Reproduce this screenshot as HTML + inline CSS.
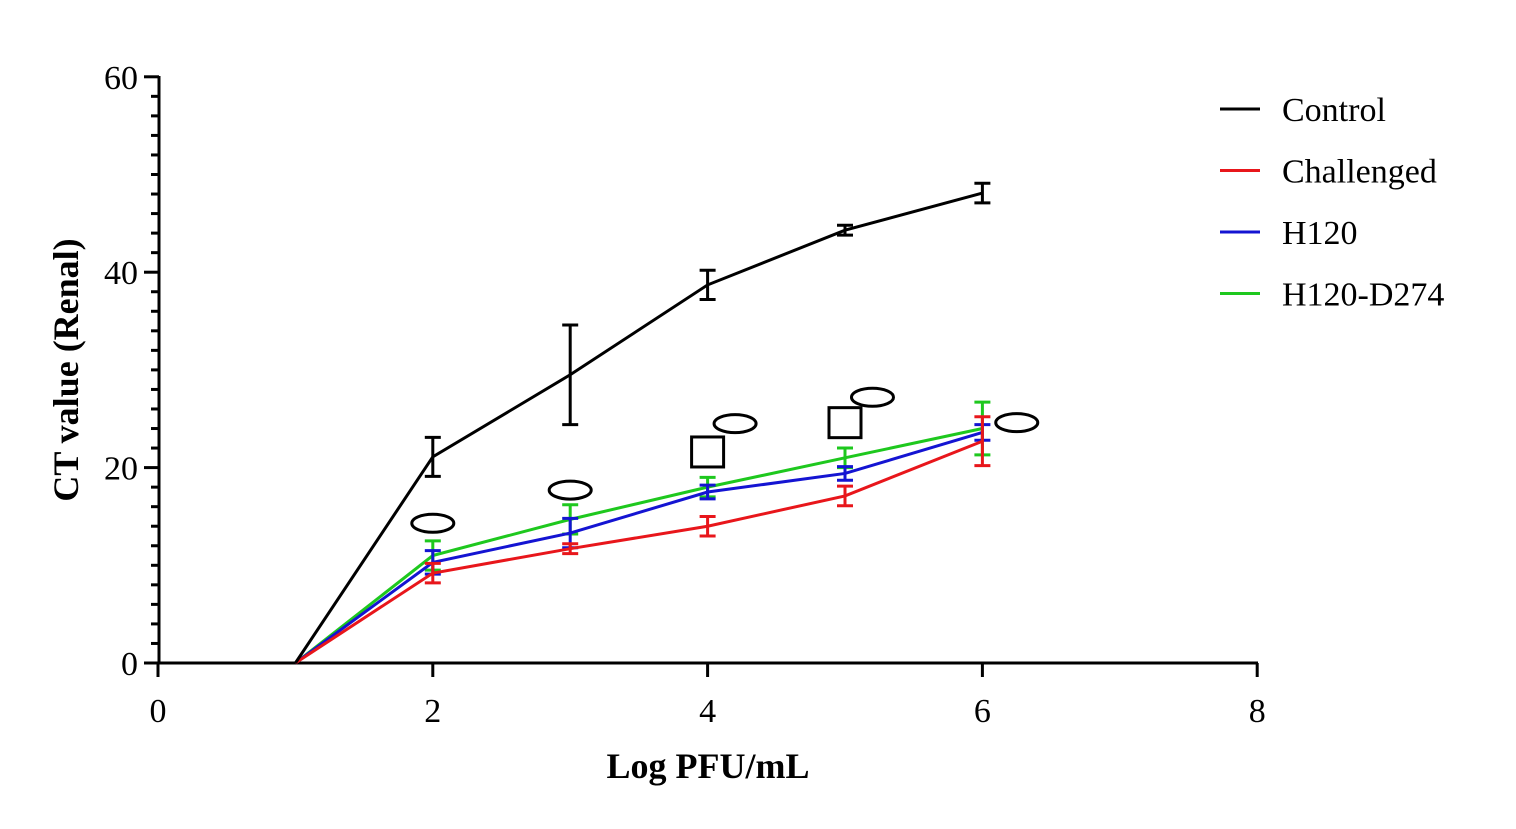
<!DOCTYPE html>
<html><head><meta charset="utf-8"><style>
body{margin:0;background:#fff;width:1516px;height:829px;overflow:hidden}
svg{display:block}
text{font-family:"Liberation Serif",serif}
</style></head><body>
<svg id="chart" width="1516" height="829" viewBox="0 0 1516 829">
<g id="axes"></g>
<g id="series"></g>
<g id="annot"></g>
<g id="legend"></g>
<text x="708" y="778" text-anchor="middle" font-size="36" font-weight="bold">Log PFU/mL</text>
<text transform="translate(78,370) rotate(-90)" text-anchor="middle" font-size="36" font-weight="bold">CT value (Renal)</text>
</svg>
<script>
const xVals=[1,2,3,4,5,6];
const seriesNames=["Control","Challenged","H120","H120-D274"];
const controlY=[0,21.1,29.5,38.7,44.3,48.1];
const controlErr=[0,2,5.1,1.5,0.5,1];
const challengedY=[0,9.2,11.7,14,17.1,22.7];
const challengedErr=[0,1,0.5,1,1,2.5];
const h120Y=[0,10.3,13.3,17.5,19.4,23.6];
const h120Err=[0,1.2,1.5,0.7,0.7,0.8];
const d274Y=[0,11,14.7,18,21,24];
const d274Err=[0,1.5,1.5,1,1,2.7];
const xTicks=[0,2,4,6,8];
const yTicks=[0,20,40,60];
const ellipseMarks=[[2,14.3],[3,17.7],[4.2,24.5],[5.2,27.2],[6.25,24.6]];
const squareMarks=[[4,21.6],[5,24.6]];

const NS="http://www.w3.org/2000/svg";
const X=v=>158+v*137.4, Y=v=>663-v*9.77;
function mk(tag,attrs,parent){const e=document.createElementNS(NS,tag);for(const k in attrs)e.setAttribute(k,attrs[k]);parent.appendChild(e);return e;}
const axes=document.getElementById('axes');
let e=mk('line',{x1:158,y1:663,x2:1258,y2:663,stroke:'#000','stroke-width':3},axes);


e=mk('line',{x1:159,y1:662,x2:159,y2:76,stroke:'#000','stroke-width':3},axes);


xTicks.forEach(t=>{
 mk('line',{x1:X(t),y1:663,x2:X(t),y2:677,stroke:'#000','stroke-width':3},axes);
 const tx=mk('text',{x:X(t),y:722,'text-anchor':'middle','font-size':34},axes);tx.textContent=t;
 
 
});
for(let v=0;v<=60;v+=2){const major=v%20===0;mk('line',{x1:major?144:151,y1:Y(v),x2:159,y2:Y(v),stroke:'#000','stroke-width':3},axes);}
yTicks.forEach(t=>{
 const tx=mk('text',{x:138,y:Y(t)+12,'text-anchor':'end','font-size':34},axes);tx.textContent=t;
 
 
});
const colors=["#000","#e8161b","#1414d2","#1ec81e"];
const ys=[controlY,challengedY,h120Y,d274Y], errs=[controlErr,challengedErr,h120Err,d274Err];
const sg=document.getElementById('series');
[3,2,1,0].forEach(i=>{
 const g=mk('g',{},sg);
 
 
 const pts=xVals.map((x,j)=>X(x)+','+Y(ys[i][j])).join(' ');
 const pl=mk('polyline',{points:pts,fill:'none',stroke:colors[i],'stroke-width':3},g);
 
 
 xVals.forEach((x,j)=>{
  const er=errs[i][j]; if(!er)return;
  const cx=X(x),hi=Y(ys[i][j]+er),lo=Y(ys[i][j]-er);
  const p=mk('path',{d:`M${cx},${hi}V${lo}M${cx-8},${hi}H${cx+8}M${cx-8},${lo}H${cx+8}`,stroke:colors[i],'stroke-width':3,fill:'none'},g);
  
  
 });
});
const an=document.getElementById('annot');
ellipseMarks.forEach(m=>{
 const el=mk('ellipse',{cx:X(m[0]),cy:Y(m[1]),rx:21,ry:9,fill:'#fff',stroke:'#000','stroke-width':3},an);
 
 
});
squareMarks.forEach(m=>{
 const r=mk('rect',{x:X(m[0])-16,y:Y(m[1])-15,width:32,height:30,fill:'#fff',stroke:'#000','stroke-width':3},an);
 
 
});
const lg=document.getElementById('legend');
seriesNames.forEach((n,i)=>{
 const y=109+i*61.5;
 const g=mk('g',{},lg);
 
 
 mk('line',{x1:1220,y1:y,x2:1260,y2:y,stroke:colors[i],'stroke-width':3},g);
 const t=mk('text',{x:1282,y:y+12,'font-size':34},g);t.textContent=n;
});
</script>
</body></html>
